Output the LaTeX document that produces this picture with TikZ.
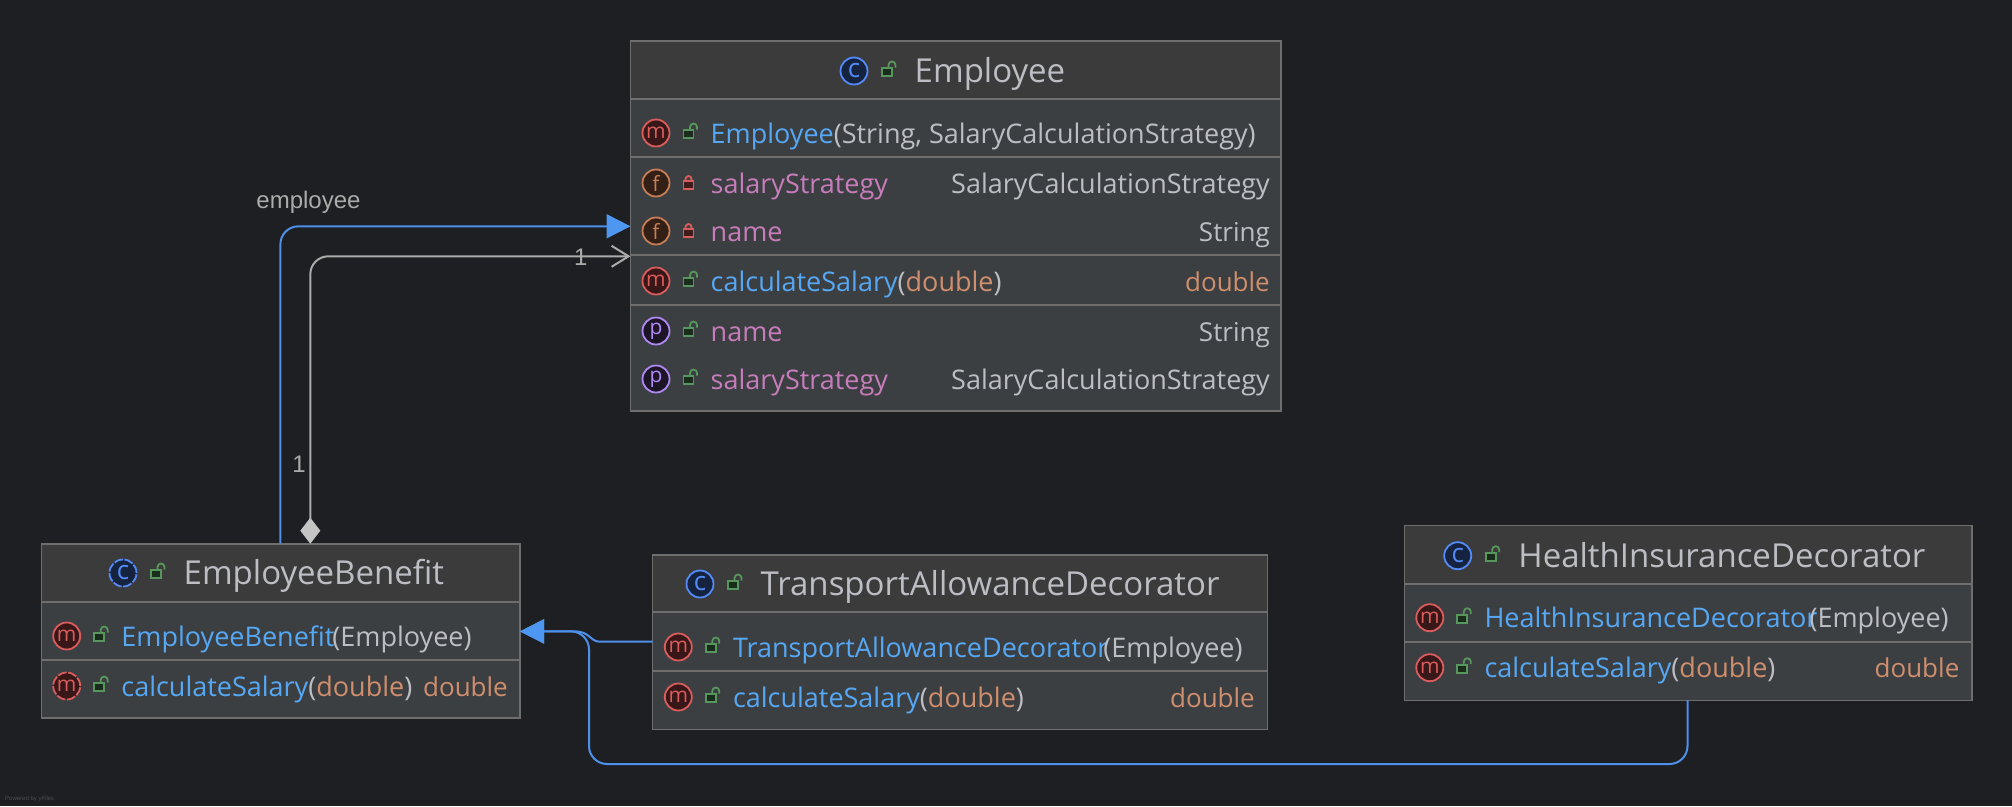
\documentclass[tikz,border=0pt]{standalone}
\usepackage{fontspec}
\setmainfont{Open Sans}
\newfontfamily\labelfont{Liberation Sans}
\usetikzlibrary{arrows.meta}

\definecolor{bgdark}{HTML}{1E1F22}
\definecolor{headfill}{HTML}{3C3B3B}
\definecolor{bodyfill}{HTML}{3C3F41}
\definecolor{edgegray}{HTML}{6E6E6E}
\definecolor{fgtext}{HTML}{BCBEC4}
\definecolor{methodblue}{HTML}{56A8F5}
\definecolor{fieldpink}{HTML}{C77DBB}
\definecolor{typeorange}{HTML}{CF8E6D}
\definecolor{linkblue}{HTML}{4E8FE8}
\definecolor{tipblue}{HTML}{4E97F0}
\definecolor{linkgray}{HTML}{ABABAB}
\definecolor{tipgray}{HTML}{C4C4C4}
\definecolor{lockgreen}{HTML}{57965C}
\definecolor{lockred}{HTML}{DB5C5C}
\definecolor{iconblue}{HTML}{548AF7}
\definecolor{iconred}{HTML}{DB5C5C}
\definecolor{iconorange}{HTML}{C77D55}
\definecolor{iconpurple}{HTML}{B189F5}

\tikzset{
  badge/.style={circle,minimum size=27pt,inner sep=0pt,line width=1.8pt,font=\fontsize{21}{21}\selectfont},
  badge m/.style={badge,draw=iconred,fill=iconred!25!black,text=iconred},
  badge f/.style={badge,draw=iconorange,fill=iconorange!25!black,text=iconorange},
  badge p/.style={badge,draw=iconpurple,fill=iconpurple!15!black,text=iconpurple},
  badge c/.style={badge,draw=iconblue,fill=iconblue!25!black,text=iconblue,font=\fontsize{26}{26}\selectfont},
  dash badge/.style={dash pattern=on 9pt off 1.6pt},
  title text/.style={anchor=base west,inner sep=0pt,text=fgtext,font=\fontsize{33}{33}\selectfont},
  row text/.style={anchor=base west,inner sep=0pt,text=fgtext,font=\fontsize{27}{27}\selectfont},
  type text/.style={anchor=base east,inner sep=0pt,text=fgtext,font=\fontsize{27}{27}\selectfont},
  link label/.style={inner sep=0pt,text=linkgray,font=\labelfont\fontsize{24}{24}\selectfont},
  open lock/.pic={
    \draw[line width=1.8pt,draw=lockgreen,fill=lockgreen!30!black] (-5,-3) rectangle (5,5);
    \draw[line width=1.8pt,draw=lockgreen] (1.5,-3)--(1.5,-6) arc (180:360:3.5) --(8.5,-3.5);
  },
  shut lock/.pic={
    \draw[line width=1.8pt,draw=lockred,fill=lockred!30!black] (-5,-2) rectangle (5,6);
    \draw[line width=1.8pt,draw=lockred] (-3,-2)--(-3,-4) arc (180:360:3) --(3,-2);
  },
  inherit/.style={line width=2pt,draw=linkblue,rounded corners=18pt,-{Triangle[length=24pt,width=24pt,color=tipblue,fill=tipblue]}},
  compose/.style={line width=2pt,draw=linkgray,rounded corners=18pt,{Diamond[length=26pt,width=20pt,color=tipgray,fill=tipgray]}-{Straight Barb[length=17pt,width=21pt]}},
}

\newcommand{\mname}[1]{\textcolor{methodblue}{#1}}
\newcommand{\fname}[1]{\textcolor{fieldpink}{#1}}
\newcommand{\tname}[1]{\textcolor{typeorange}{#1}}
\newcommand{\shortdouble}{\fontsize{26}{26}\selectfont\tname{double}}
\newcommand{\shortstring}{\fontsize{26}{26}\selectfont String}

% name, x, y, width, height, separators
\newcommand{\classbox}[6]{
  \node[anchor=north west,outer sep=0pt,inner sep=0pt,minimum width=#4pt,minimum height=#5pt,fill=bodyfill] (#1) at (#2,#3) {};
  \foreach \s [count=\i] in {#6}
  {
    \ifnum\i=1 \fill[headfill] (#1.north west) rectangle ([yshift=-\s pt]#1.north east); \fi
    \draw[edgegray,line width=2pt] ([yshift=-\s pt]#1.north west)--([yshift=-\s pt]#1.north east);
  }
  \draw[edgegray,line width=1.6pt] (#1.north west) rectangle (#1.south east);
}
% name, x, y, title
\newcommand{\classtitle}[5][]{
  \node[badge c,#1] (#2icon) at (#3,#4) {c};
  \pic at (#3+33,#4) {open lock};
  \node[title text] (#2title) at (#3+60.5,#4+11.5) {#5};
}
% name, x, y, letter, lock, text
\newcommand{\memberrow}[7][]{
  \node[badge #5,#1] (#2icon) at (#3,#4) {#5};
  \pic at (#3+32.5,#4) {#6 lock};
  \node[row text] (#2text) at (#3+54.5,#4+10) {#7};
}
% name, x, y, text
\newcommand{\rowtype}[4]{
  \node[type text] (#1) at (#2,#3+10) {#4};
}

\begin{document}
\begin{tikzpicture}[x=1pt,y=-1pt]
\useasboundingbox (0,0) rectangle (2012,806);
\fill[bgdark] (0,0) rectangle (2012,806);

\classbox{employee}{630.5}{41}{650.5}{370}{58,116,214,264}
\classtitle{emp}{854}{71}{Employee}
\memberrow{empctor}{656}{133}{m}{open}{\mname{Employee}(String, SalaryCalculationStrategy)}
\memberrow{empf1}{656}{183}{f}{shut}{\fname{salaryStrategy}}
\rowtype{empf1t}{1270}{183}{SalaryCalculationStrategy}
\memberrow{empf2}{656}{231}{f}{shut}{\fname{name}}
\rowtype{empf2t}{1270}{231}{\shortstring}
\memberrow{empcalc}{656}{281}{m}{open}{\mname{calculateSalary}(\tname{double})}
\rowtype{empcalct}{1270}{281}{\shortdouble}
\memberrow{empp1}{656}{331}{p}{open}{\fname{name}}
\rowtype{empp1t}{1270}{331}{\shortstring}
\memberrow{empp2}{656}{379}{p}{open}{\fname{salaryStrategy}}
\rowtype{empp2t}{1270}{379}{SalaryCalculationStrategy}

\classbox{benefit}{41.4}{543.7}{478.6}{174.3}{58,116}
\classtitle[dash badge]{ben}{123}{573}{EmployeeBenefit}
\memberrow{benctor}{66.7}{636}{m}{open}{\mname{EmployeeBenefit}\hspace{-2pt}(Employee)}
\memberrow[dash badge]{bencalc}{66.7}{686}{m}{open}{\mname{calculateSalary}(\tname{double})}
\rowtype{bencalct}{508}{686}{\shortdouble}

\classbox{transport}{652.6}{554.7}{614.9}{174.6}{57.6,116}
\classtitle{tra}{700}{584}{TransportAllowanceDecorator}
\memberrow{tractor}{678.3}{647}{m}{open}{\mname{TransportAllowanceDecorator}\hspace{-5pt}(Employee)}
\memberrow{tracalc}{678.3}{697}{m}{open}{\mname{calculateSalary}(\tname{double})}
\rowtype{tracalct}{1255}{697}{\shortdouble}

\classbox{health}{1404.5}{525.3}{567.2}{175}{58.4,116.7}
\classtitle{hea}{1457.7}{555.7}{HealthInsuranceDecorator}
\memberrow{heactor}{1429.8}{617.7}{m}{open}{\mname{HealthInsuranceDecorator}\hspace{-8pt}(Employee)}
\memberrow{heacalc}{1429.8}{667.7}{m}{open}{\mname{calculateSalary}(\tname{double})}
\rowtype{heacalct}{1959.5}{667.7}{\shortdouble}

% links
\draw[inherit] ([xshift=239pt]benefit.north west) |- ([yshift=-185.3pt]employee.north west);
\draw[compose] ([xshift=268.9pt]benefit.north west) |- ([yshift=-215.3pt]employee.north west);
\draw[inherit,sharp corners] ([yshift=-87pt]transport.north west)--(600,641.7) .. controls (590,641.7) and (590,631.4) .. (575,631.4)--([yshift=-87.7pt]benefit.north east);
\draw[inherit] ([xshift=283pt]health.south west) |- (589,764) |- ([yshift=-87.7pt]benefit.north east);

\node[link label] (emplabel) at (308.5,202) {employee};
\node[link label] (onetarget) at (580.7,257.7) {1};
\node[link label] (onesource) at (299,464) {1};
\node[anchor=base west,inner sep=0pt,text=white!20!bgdark,font=\labelfont\fontsize{6}{6}\selectfont] (poweredby) at (5,800) {Powered by yFiles};
\end{tikzpicture}
\end{document}
